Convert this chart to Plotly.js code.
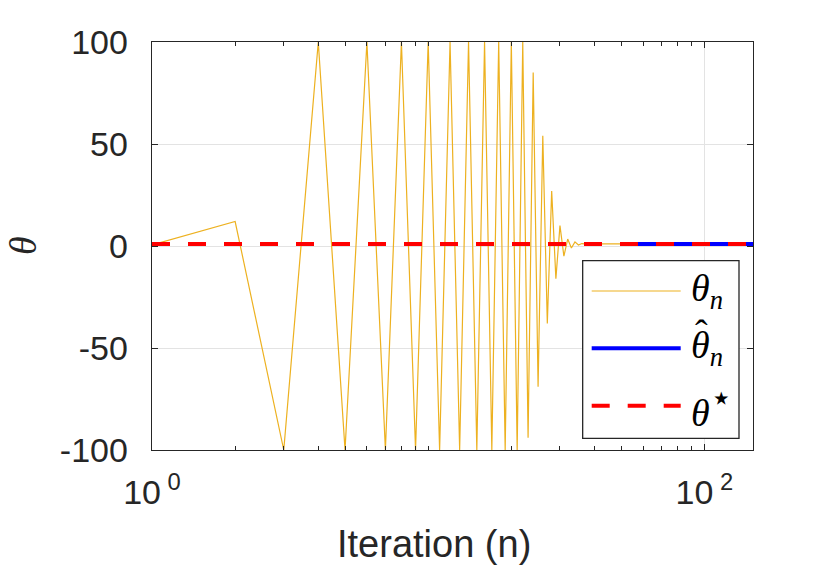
<!DOCTYPE html>
<html><head><meta charset="utf-8">
<script src="https://cdn.plot.ly/plotly-3.0.1.min.js"></script>
<style>html,body{margin:0;padding:0;background:#fff}</style>
</head><body>
<div id="chart" style="width:830px;height:571px"></div>
<script>
// ---- data ----
const iterations = [1,2,3,4,5,6,7,8,9,10,11,12,13,14,15,16,17,18,19,20,
  21,22,23,24,25,26,27,28,29,30,31,32,33,34,35,36,37,38,39,40,150];
const thetaN = [0.5,12,-100,100,-100,100,-100,100,-100,100,-100,100,-100,100,-100,100,-100,100,-100,100,
  -100,100,-94,85,-69,54,-38,27,-16,10,-5,3.4,-1,2,0.5,1.2,1,1,1,1,1];
const hatIterations = [50,150];
const thetaHat = [1,1];
const starIterations = [1,150];
const thetaStar = [1,1];

const xTickVals = [1,100];
const xTickText = ['10<sup> 0</sup>','10<sup> 2</sup>'];
const xMinorVals = [2,3,4,5,6,7,8,9,10,20,30,40,50,60,70,80,90];
const yTickVals = [-100,-50,0,50,100];
const yTickText = ['-100','-50','0','50','100'];
const legendLabels = ['<i>θ</i><sub><i>n</i></sub>','<i>θ</i><sub><i>n</i></sub>',
  '<i>θ</i><sup><span style="font-size:36px">⋆</span></sup>'];
const xTitle = 'Iteration (n)';
const yTitle = '<i>θ</i>';

const cYellow = '#EDB120', cBlue = '#0000FF', cRed = '#FF0000', cAxis = '#262626';

const traces = [
  {x: iterations, y: thetaN, type:'scatter', mode:'lines', name:'θn',
   line:{color:cYellow, width:1.2}},
  {x: hatIterations, y: thetaHat, type:'scatter', mode:'lines', name:'θ̂n',
   line:{color:cBlue, width:4}},
  {x: starIterations, y: thetaStar, type:'scatter', mode:'lines', name:'θ⋆',
   line:{color:cRed, width:4, dash:'18px,18px'}}
];

// legend geometry in paper coords (plot area 152..753 x, 42..450 y)
const lx0 = 0.7166, lx1 = 0.9767, ly0 = 0.0287, ly1 = 0.464;
const sx0 = 0.7316, sx1 = 0.8797, tx = 0.893;
const rowY = [0.3897, 0.2493, 0.1086];
const rowLine = [
  {color:cYellow, width:1.2, dash:'solid'},
  {color:cBlue, width:4, dash:'solid'},
  {color:cRed, width:4, dash:'18px,18px'}
];
const shapes = [{type:'rect', xref:'paper', yref:'paper', x0:lx0, x1:lx1, y0:ly0, y1:ly1,
  fillcolor:'#fff', line:{color:cAxis, width:1.3}, layer:'above'}];
const serif = {family:'Liberation Serif', size:38, color:'#000'};
const annotations = [
  // x-axis title (the reference centres it left of the plot centre)
  {xref:'paper', yref:'paper', x:0.469, y:-0.2304, xanchor:'center', yanchor:'middle',
   text:xTitle, showarrow:false, font:{family:'Liberation Sans, Arial, sans-serif', size:38, color:cAxis}},
  // y-axis title
  {xref:'paper', yref:'paper', x:-0.2146, y:0.5, xanchor:'center', yanchor:'middle', textangle:-90,
   text:yTitle, showarrow:false, font:{family:'Liberation Serif', size:38, color:cAxis}}
];
for (let i = 0; i < 3; i++) {
  shapes.push({type:'line', xref:'paper', yref:'paper', x0:sx0, x1:sx1, y0:rowY[i], y1:rowY[i],
    line:rowLine[i], layer:'above'});
  annotations.push({xref:'paper', yref:'paper', x:tx, y:rowY[i], xanchor:'left', yanchor:'middle',
    text:legendLabels[i], showarrow:false, font:serif});
}
// circumflex accent of the hat-theta entry
annotations.push({xref:'paper', yref:'paper', x:0.915, y:0.286, xanchor:'center', yanchor:'middle',
  text:'\u02c6', showarrow:false, font:serif});

const layout = {
  width:830, height:571,
  margin:{l:152, r:77, t:42, b:121},
  paper_bgcolor:'#fff', plot_bgcolor:'#fff',
  showlegend:false,
  font:{family:'Liberation Sans, Arial, sans-serif', color:cAxis},
  xaxis:{type:'log', range:[0, Math.log10(150)], tickmode:'array', tickvals:xTickVals, ticktext:xTickText,
    ticks:'inside', ticklen:6, tickwidth:1, tickcolor:cAxis, showline:true, linecolor:cAxis, linewidth:1.3,
    mirror:'allticks', showgrid:true, gridcolor:'#e3e3e3', gridwidth:1, zeroline:false,
    tickfont:{size:34, color:cAxis}, ticklabelstandoff:12,
    minor:{tickmode:'array', tickvals:xMinorVals, ticks:'inside', ticklen:4, tickcolor:cAxis, showgrid:false}},
  yaxis:{range:[-100,100], tickmode:'array', tickvals:yTickVals, ticktext:yTickText,
    ticks:'inside', ticklen:6, tickwidth:1, tickcolor:cAxis, showline:true, linecolor:cAxis, linewidth:1.3,
    mirror:'allticks', showgrid:true, gridcolor:'#e3e3e3', gridwidth:1, zeroline:false,
    tickfont:{size:34, color:cAxis}, ticklabelstandoff:16},
  shapes: shapes,
  annotations: annotations
};

Plotly.newPlot('chart', traces, layout, {displayModeBar:false, staticPlot:true});
</script>
</body></html>
